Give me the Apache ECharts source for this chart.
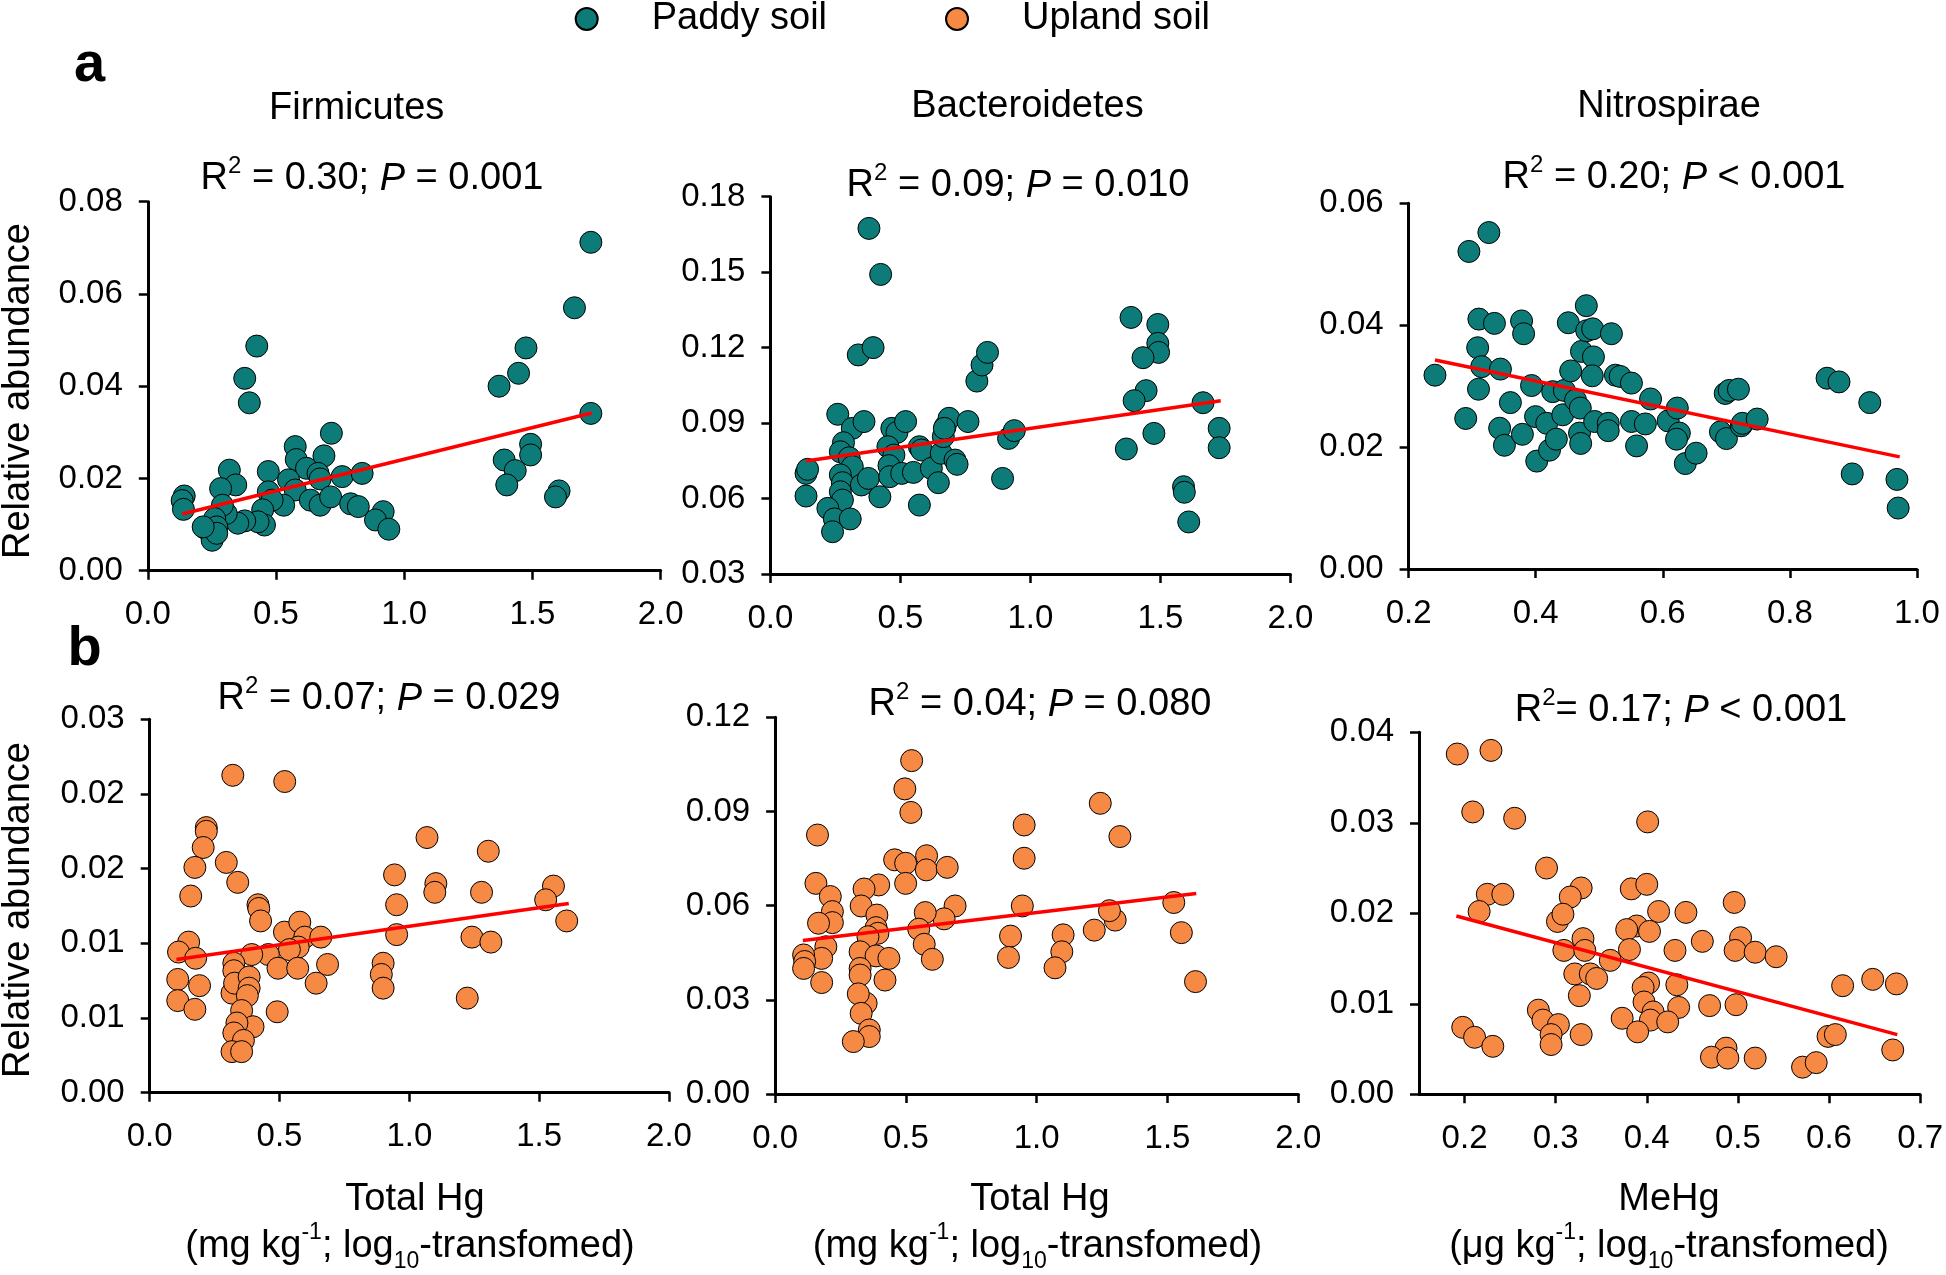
<!DOCTYPE html>
<html><head><meta charset="utf-8">
<script src="https://cdn.jsdelivr.net/npm/echarts@6/dist/echarts.min.js"></script>
<style>html,body{margin:0;padding:0;background:#fff}#c{width:1946px;height:1275px}</style>
</head><body><div id="c"></div>
<script>
// ---------------- data (x = log10 Hg, y = relative abundance) ----------------
const paddyFirmicutes = [[1.728,0.0712],[1.664,0.0570],[1.475,0.0483],[1.446,0.0428],[1.370,0.0400],[1.728,0.0341],[1.493,0.0274],[1.493,0.0251],[1.390,0.0240],[1.433,0.0217],[1.400,0.0186],[1.604,0.0173],[1.590,0.0160],[0.425,0.0487],[0.378,0.0417],[0.396,0.0364],[0.716,0.0298],[0.575,0.0269],[0.579,0.0241],[0.687,0.0249],[0.619,0.0222],[0.664,0.0211],[0.672,0.0199],[0.758,0.0204],[0.836,0.0211],[0.318,0.0218],[0.470,0.0215],[0.549,0.0197],[0.575,0.0175],[0.343,0.0186],[0.284,0.0178],[0.470,0.0171],[0.634,0.0153],[0.672,0.0142],[0.713,0.0160],[0.791,0.0145],[0.821,0.0139],[0.918,0.0128],[0.888,0.0110],[0.940,0.0090],[0.530,0.0142],[0.485,0.0153],[0.448,0.0132],[0.455,0.0099],[0.430,0.0106],[0.378,0.0108],[0.351,0.0103],[0.306,0.0124],[0.291,0.0142],[0.261,0.0113],[0.224,0.0092],[0.269,0.0095],[0.251,0.0066],[0.269,0.0081],[0.142,0.0162],[0.134,0.0152],[0.139,0.0133],[0.216,0.0095]];
const paddyBacteroidetes = [[0.379,0.1674],[0.424,0.1491],[0.338,0.1171],[0.395,0.1200],[0.259,0.0935],[0.315,0.0879],[0.360,0.0906],[0.281,0.0822],[0.269,0.0786],[0.303,0.0762],[0.315,0.0727],[0.269,0.0694],[0.277,0.0663],[0.269,0.0627],[0.277,0.0594],[0.350,0.0654],[0.377,0.0680],[0.421,0.0607],[0.221,0.0561],[0.246,0.0519],[0.239,0.0468],[0.307,0.0519],[0.137,0.0700],[0.143,0.0716],[0.137,0.0610],[0.467,0.0879],[0.487,0.0863],[0.520,0.0906],[0.452,0.0806],[0.475,0.0773],[0.456,0.0731],[0.459,0.0687],[0.505,0.0700],[0.550,0.0704],[0.573,0.0806],[0.581,0.0793],[0.573,0.0574],[0.619,0.0720],[0.646,0.0663],[0.657,0.0780],[0.665,0.0846],[0.672,0.0886],[0.687,0.0919],[0.669,0.0879],[0.710,0.0753],[0.718,0.0736],[0.760,0.0906],[0.794,0.1067],[0.814,0.1131],[0.835,0.1181],[0.893,0.0680],[0.916,0.0839],[0.938,0.0870],[1.387,0.1320],[1.490,0.1292],[1.490,0.1217],[1.493,0.1181],[1.433,0.1160],[1.445,0.1029],[1.399,0.0989],[1.475,0.0859],[1.369,0.0797],[1.664,0.0981],[1.726,0.0879],[1.726,0.0802],[1.589,0.0647],[1.592,0.0625],[1.609,0.0507]];
const paddyNitrospirae = [[0.3263,0.0552],[0.2949,0.0521],[0.2415,0.0318],[0.2899,0.0247],[0.3106,0.0410],[0.3351,0.0403],[0.3087,0.0363],[0.3150,0.0332],[0.3100,0.0295],[0.3445,0.0328],[0.3602,0.0273],[0.3433,0.0231],[0.3508,0.0203],[0.3778,0.0407],[0.3810,0.0386],[0.3935,0.0301],[0.3791,0.0221],[0.3998,0.0250],[0.4017,0.0177],[0.4174,0.0239],[0.4218,0.0195],[0.4325,0.0213],[0.4268,0.0291],[0.4426,0.0253],[0.4451,0.0293],[0.4514,0.0404],[0.4551,0.0325],[0.4627,0.0277],[0.4702,0.0264],[0.4690,0.0223],[0.4708,0.0206],[0.4721,0.0357],[0.4909,0.0348],[0.4797,0.0432],[0.4803,0.0391],[0.4897,0.0394],[0.4891,0.0317],[0.4928,0.0242],[0.5142,0.0239],[0.5142,0.0227],[0.5192,0.0386],[0.5255,0.0318],[0.5330,0.0316],[0.5507,0.0305],[0.5507,0.0242],[0.5588,0.0202],[0.5726,0.0238],[0.5808,0.0279],[0.6085,0.0243],[0.6229,0.0264],[0.6261,0.0223],[0.6217,0.0213],[0.6355,0.0173],[0.6525,0.0190],[0.6908,0.0225],[0.7002,0.0214],[0.6983,0.0288],[0.7046,0.0293],[0.7191,0.0295],[0.7235,0.0235],[0.7254,0.0239],[0.7486,0.0246],[0.8586,0.0313],[0.8774,0.0307],[0.9258,0.0273],[0.8982,0.0156],[0.9686,0.0147],[0.9705,0.0100]];
const uplandFirmicutes = [[0.320,0.0255],[0.520,0.0250],[0.218,0.0213],[0.218,0.0210],[0.206,0.0197],[0.174,0.0181],[0.158,0.0158],[0.295,0.0185],[0.339,0.0169],[1.068,0.0205],[1.304,0.0194],[0.943,0.0175],[0.951,0.0151],[0.951,0.0127],[1.102,0.0168],[1.098,0.0161],[1.278,0.0161],[1.241,0.0125],[1.314,0.0121],[1.223,0.0076],[1.555,0.0166],[1.525,0.0155],[1.606,0.0138],[0.899,0.0104],[0.892,0.0095],[0.899,0.0084],[0.417,0.0151],[0.420,0.0148],[0.427,0.0138],[0.519,0.0129],[0.578,0.0137],[0.597,0.0125],[0.659,0.0125],[0.572,0.0117],[0.538,0.0115],[0.457,0.0111],[0.393,0.0111],[0.494,0.0100],[0.570,0.0100],[0.685,0.0103],[0.641,0.0088],[0.491,0.0065],[0.150,0.0121],[0.111,0.0113],[0.177,0.0108],[0.108,0.0091],[0.192,0.0086],[0.108,0.0074],[0.174,0.0067],[0.324,0.0104],[0.324,0.0098],[0.317,0.0080],[0.327,0.0088],[0.383,0.0093],[0.383,0.0084],[0.376,0.0078],[0.354,0.0066],[0.398,0.0053],[0.336,0.0056],[0.324,0.0048],[0.361,0.0042],[0.317,0.0033],[0.354,0.0033]];
const uplandBacteroidetes = [[0.522,0.1062],[0.496,0.0972],[0.519,0.0897],[0.162,0.0825],[0.457,0.0746],[0.499,0.0735],[0.499,0.0671],[0.579,0.0759],[0.578,0.0714],[0.658,0.0722],[0.688,0.0599],[0.646,0.0558],[0.574,0.0578],[0.549,0.0525],[0.570,0.0477],[0.601,0.0429],[0.156,0.0671],[0.211,0.0629],[0.219,0.0581],[0.219,0.0546],[0.166,0.0544],[0.194,0.0469],[0.178,0.0432],[0.178,0.0355],[0.109,0.0443],[0.113,0.0422],[0.109,0.0400],[0.396,0.0666],[0.340,0.0653],[0.329,0.0599],[0.389,0.0570],[0.386,0.0530],[0.393,0.0512],[0.355,0.0501],[0.325,0.0453],[0.386,0.0440],[0.435,0.0432],[0.420,0.0363],[0.325,0.0400],[0.325,0.0379],[0.348,0.0289],[0.318,0.0319],[0.329,0.0257],[0.360,0.0204],[0.360,0.0183],[0.299,0.0167],[0.952,0.0857],[0.952,0.0751],[0.945,0.0599],[0.900,0.0503],[0.892,0.0435],[1.243,0.0926],[1.318,0.0820],[1.101,0.0507],[1.096,0.0453],[1.070,0.0402],[1.220,0.0522],[1.300,0.0554],[1.278,0.0584],[1.524,0.0610],[1.553,0.0514],[1.607,0.0358]];
const uplandNitrospirae = [[0.192,0.0376],[0.229,0.0380],[0.209,0.0312],[0.255,0.0305],[0.401,0.0301],[0.290,0.0250],[0.328,0.0228],[0.316,0.0218],[0.225,0.0221],[0.242,0.0221],[0.216,0.0202],[0.302,0.0191],[0.308,0.0199],[0.330,0.0172],[0.309,0.0159],[0.332,0.0159],[0.360,0.0148],[0.321,0.0133],[0.338,0.0133],[0.345,0.0128],[0.326,0.0109],[0.281,0.0093],[0.286,0.0082],[0.303,0.0077],[0.295,0.0066],[0.295,0.0055],[0.328,0.0066],[0.198,0.0074],[0.211,0.0063],[0.231,0.0053],[0.383,0.0227],[0.400,0.0232],[0.413,0.0202],[0.443,0.0201],[0.389,0.0186],[0.378,0.0182],[0.403,0.0180],[0.381,0.0160],[0.431,0.0159],[0.461,0.0169],[0.496,0.0212],[0.503,0.0173],[0.497,0.0159],[0.519,0.0157],[0.542,0.0152],[0.402,0.0123],[0.396,0.0118],[0.433,0.0121],[0.397,0.0102],[0.407,0.0091],[0.435,0.0096],[0.469,0.0098],[0.498,0.0099],[0.373,0.0084],[0.404,0.0082],[0.423,0.0080],[0.390,0.0069],[0.487,0.0051],[0.471,0.0041],[0.489,0.0040],[0.519,0.0040],[0.571,0.0030],[0.586,0.0035],[0.599,0.0064],[0.607,0.0066],[0.615,0.0120],[0.648,0.0127],[0.674,0.0122],[0.670,0.0049]];

// fitted regression lines (end points)
const trendPaddyFirmicutes = [[0.134,0.0123],[1.731,0.0342]];
const trendPaddyBacteroidetes = [[0.137,0.0749],[1.732,0.0989]];
const trendPaddyNitrospirae = [[0.2415,0.0343],[0.9729,0.0184]];
const trendUplandFirmicutes = [[0.103,0.0107],[1.614,0.0152]];
const trendUplandBacteroidetes = [[0.106,0.0489],[1.610,0.0639]];
const trendUplandNitrospirae = [[0.191,0.0197],[0.675,0.0066]];

const phyla = ['Firmicutes','Bacteroidetes','Nitrospirae'];
const statsA = ['R{sup|2} = 0.30; {i|P} = 0.001','R{sup|2} = 0.09; {i|P} = 0.010','R{sup|2} = 0.20; {i|P} < 0.001'];
const statsB = ['R{sup|2} = 0.07; {i|P} = 0.029','R{sup|2} = 0.04; {i|P} = 0.080','R{sup|2}= 0.17; {i|P} < 0.001'];
const legendNames = ['Paddy soil','Upland soil'];
const mehgTicks = [0.2,0.3,0.4,0.5,0.6,0.7];

// ---------------- layout / style ----------------
const FONT = "'Liberation Sans', Arial, Helvetica, sans-serif";
const TEAL = '#0d7c78', ORANGE = '#f68a45';
const FS = 38;
const grids = [
  {left:147.8, top:201.7, width:512.8, height:369},
  {left:770.4, top:196.7, width:520, height:377.3},
  {left:1408.6, top:203.3, width:508.3, height:365.7},
  {left:149.7, top:719.3, width:519.3, height:373.4},
  {left:775.1, top:717.3, width:523.2, height:376.7},
  {left:1419.0, top:732.3, width:501.8, height:362}
];
const xSpec = [
  {min:0,max:2,interval:0.5,dec:1},{min:0,max:2,interval:0.5,dec:1},{min:0.2,max:1.0,interval:0.2,dec:1},
  {min:0,max:2,interval:0.5,dec:1},{min:0,max:2,interval:0.5,dec:1},{min:0.15,max:0.7,custom:mehgTicks,dec:1}
];
const ySpec = [
  {min:0,max:0.08,interval:0.02},{min:0.03,max:0.18,interval:0.03},{min:0,max:0.06,interval:0.02},
  {min:0,max:0.03,interval:0.006},{min:0,max:0.12,interval:0.03},{min:0,max:0.04,interval:0.01}
];
const axisLine = {show:true, onZero:false, lineStyle:{color:'#000', width:3}};
const axisTick = {show:true, inside:false, length:9, lineStyle:{color:'#000', width:2.5}};
function labelStyle(margin, dec){ return {margin, color:'#000', fontSize:33, fontFamily:FONT, formatter: v => Number(v).toFixed(dec)}; }

const xAxis = xSpec.map((s,i) => {
  const a = {type:'value', gridIndex:i, min:s.min, max:s.max, splitLine:{show:false},
    axisLine, axisTick:Object.assign({}, axisTick), axisLabel:labelStyle(28, s.dec)};
  if (s.custom) { a.axisTick.customValues = s.custom; a.axisLabel.customValues = s.custom; }
  else a.interval = s.interval;
  return a;
});
const yAxis = ySpec.map((s,i) => ({type:'value', gridIndex:i, min:s.min, max:s.max, interval:s.interval,
  splitLine:{show:false}, axisLine, axisTick, axisLabel:labelStyle(25, 2)}));

const scatterSets = [paddyFirmicutes, paddyBacteroidetes, paddyNitrospirae, uplandFirmicutes, uplandBacteroidetes, uplandNitrospirae];
const trendSets = [trendPaddyFirmicutes, trendPaddyBacteroidetes, trendPaddyNitrospirae, trendUplandFirmicutes, trendUplandBacteroidetes, trendUplandNitrospirae];
const series = [];
scatterSets.forEach((d,i) => {
  series.push({type:'scatter', name: i<3 ? legendNames[0] : legendNames[1], xAxisIndex:i, yAxisIndex:i, data:d,
    symbol:'circle', symbolSize:22, z:2,
    itemStyle:{color: i<3 ? TEAL : ORANGE, borderColor:'#000', borderWidth:1, opacity:1},
    emphasis:{disabled:true}});
});
trendSets.forEach((d,i) => {
  series.push({type:'line', xAxisIndex:i, yAxisIndex:i, data:d, symbol:'none', z:5,
    lineStyle:{color:'#ff0000', width:3.5}, emphasis:{disabled:true}});
});

function T(x, y, text, size, extra){
  const st = Object.assign({text, x:0, y:0, fill:'#000', font: size+'px '+FONT, fontSize:size, fontFamily:FONT,
    align:'center', verticalAlign:'middle', textAlign:'center', textVerticalAlign:'middle'}, extra||{});
  return {type:'text', x, y, silent:true, style:st};
}
const statRich = {
  sup:{fontSize:24, fontFamily:FONT, lineHeight:24, verticalAlign:'top', fill:'#000'},
  i:{fontSize:FS, fontFamily:FONT, fontStyle:'italic', lineHeight:50, fill:'#000'}
};
const titleRich = {
  sup:{fontSize:23, fontFamily:FONT, lineHeight:23, verticalAlign:'top', fill:'#000'},
  sub:{fontSize:23, fontFamily:FONT, lineHeight:23, verticalAlign:'bottom', fill:'#000'}
};
const graphics = [
  T(89.5, 66, 'a', 56, {fontWeight:'bold', font:'bold 56px '+FONT}),
  T(84.5, 650, 'b', 56, {fontWeight:'bold', font:'bold 56px '+FONT}),
  T(356.7, 109, phyla[0], FS), T(1027.5, 107, phyla[1], FS), T(1669, 107, phyla[2], FS),
  T(372, 179, statsA[0], FS, {rich:statRich, lineHeight:50}),
  T(1018, 186, statsA[1], FS, {rich:statRich, lineHeight:50}),
  T(1674, 178, statsA[2], FS, {rich:statRich, lineHeight:50}),
  T(389, 699, statsB[0], FS, {rich:statRich, lineHeight:50}),
  T(1040, 705, statsB[1], FS, {rich:statRich, lineHeight:50}),
  T(1681, 711, statsB[2], FS, {rich:statRich, lineHeight:50}),
  Object.assign(T(19, 391, 'Relative abundance', FS), {rotation:Math.PI/2}),
  Object.assign(T(19, 910, 'Relative abundance', FS), {rotation:Math.PI/2}),
  T(415, 1200, 'Total Hg', FS), T(1040, 1200, 'Total Hg', FS), T(1669, 1200, 'MeHg', FS),
  T(410, 1247, '(mg kg{sup|-1}; log{sub|10}-transfomed)', FS, {rich:titleRich, lineHeight:52}),
  T(1037.5, 1247, '(mg kg{sup|-1}; log{sub|10}-transfomed)', FS, {rich:titleRich, lineHeight:52}),
  T(1669, 1247, '(\u03bcg kg{sup|-1}; log{sub|10}-transfomed)', FS, {rich:titleRich, lineHeight:52})
];

const chart = echarts.init(document.getElementById('c'), null, {renderer:'canvas', width:1946, height:1275});
chart.setOption({
  backgroundColor:'#fff',
  animation:false,
  legend:{data:legendNames, left:574.7, top:0, padding:0, icon:'circle', itemWidth:22, itemHeight:22, itemGap:118,
    selectedMode:false,
    textStyle:{fontSize:FS, fontFamily:FONT, color:'#000', padding:[0,0,0,49]}},
  grid:grids.map(g => Object.assign({containLabel:false}, g)),
  xAxis, yAxis, series, graphic:graphics
});
</script></body></html>
